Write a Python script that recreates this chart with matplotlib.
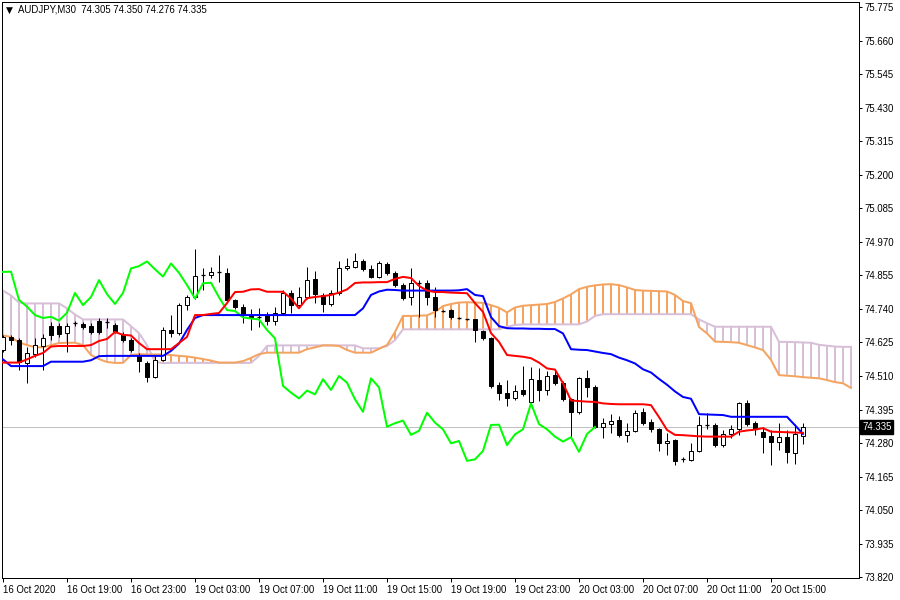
import matplotlib
matplotlib.use("Agg")
import matplotlib.pyplot as plt
from matplotlib.patches import Rectangle
from matplotlib.transforms import blended_transform_factory

# ---------------- data ----------------
symbol_title = "AUDJPY,M30  74.305 74.350 74.276 74.335"
last_price = 74.335

opens = [74.599, 74.645, 74.633, 74.556, 74.584, 74.613, 74.681, 74.681, 74.657, 74.690,
         74.688, 74.681, 74.700, 74.695, 74.685, 74.654, 74.633, 74.582, 74.555, 74.508,
         74.565, 74.668, 74.656, 74.753, 74.782, 74.855, 74.856, 74.866, 74.863, 74.771,
         74.748, 74.717, 74.712, 74.719, 74.700, 74.727, 74.796, 74.753, 74.781, 74.843,
         74.788, 74.757, 74.794, 74.879, 74.885, 74.903, 74.876, 74.851, 74.894, 74.864,
         74.822, 74.780, 74.828, 74.830, 74.780, 74.734, 74.736, 74.709, 74.705, 74.704,
         74.664, 74.639, 74.479, 74.453, 74.433, 74.462, 74.422, 74.496, 74.462, 74.513,
         74.487, 74.430, 74.387, 74.502, 74.473, 74.334, 74.345, 74.359, 74.308, 74.322,
         74.387, 74.353, 74.327, 74.279, 74.290, 74.225, 74.222, 74.253, 74.341, 74.342,
         74.273, 74.310, 74.327, 74.416, 74.350, 74.319, 74.304, 74.285, 74.300, 74.247,
         74.305]
highs = [74.651, 74.651, 74.640, 74.609, 74.640, 74.654, 74.695, 74.691, 74.692, 74.699,
         74.695, 74.692, 74.709, 74.709, 74.692, 74.661, 74.640, 74.589, 74.562, 74.582,
         74.679, 74.719, 74.760, 74.789, 74.945, 74.880, 74.885, 74.925, 74.880, 74.775,
         74.757, 74.740, 74.743, 74.729, 74.748, 74.805, 74.805, 74.816, 74.885, 74.871,
         74.795, 74.805, 74.905, 74.915, 74.932, 74.910, 74.891, 74.903, 74.900, 74.870,
         74.828, 74.880, 74.839, 74.839, 74.816, 74.738, 74.740, 74.711, 74.707, 74.707,
         74.668, 74.643, 74.490, 74.496, 74.479, 74.544, 74.542, 74.537, 74.527, 74.531,
         74.493, 74.433, 74.508, 74.531, 74.479, 74.366, 74.380, 74.373, 74.349, 74.393,
         74.400, 74.362, 74.330, 74.314, 74.294, 74.232, 74.280, 74.373, 74.382, 74.350,
         74.325, 74.342, 74.422, 74.428, 74.355, 74.336, 74.325, 74.350, 74.325, 74.345,
         74.350]
lows = [74.592, 74.616, 74.531, 74.487, 74.575, 74.531, 74.633, 74.645, 74.593, 74.681,
        74.671, 74.654, 74.654, 74.674, 74.658, 74.626, 74.592, 74.525, 74.490, 74.502,
        74.560, 74.645, 74.650, 74.736, 74.775, 74.805, 74.846, 74.832, 74.765, 74.740,
        74.692, 74.668, 74.678, 74.685, 74.685, 74.720, 74.727, 74.747, 74.775, 74.760,
        74.730, 74.750, 74.788, 74.874, 74.880, 74.870, 74.846, 74.846, 74.858, 74.815,
        74.770, 74.753, 74.713, 74.753, 74.713, 74.729, 74.706, 74.704, 74.701, 74.628,
        74.633, 74.469, 74.428, 74.407, 74.428, 74.440, 74.417, 74.425, 74.445, 74.480,
        74.425, 74.300, 74.380, 74.439, 74.333, 74.296, 74.314, 74.301, 74.285, 74.318,
        74.342, 74.318, 74.254, 74.239, 74.205, 74.216, 74.219, 74.250, 74.327, 74.265,
        74.268, 74.297, 74.308, 74.340, 74.308, 74.247, 74.205, 74.256, 74.213, 74.208,
        74.276]
closes = [74.645, 74.633, 74.559, 74.589, 74.616, 74.640, 74.651, 74.654, 74.681, 74.692,
          74.678, 74.661, 74.662, 74.697, 74.665, 74.633, 74.599, 74.561, 74.508, 74.565,
          74.668, 74.656, 74.753, 74.782, 74.853, 74.858, 74.867, 74.868, 74.771, 74.748,
          74.719, 74.709, 74.713, 74.700, 74.727, 74.795, 74.753, 74.781, 74.839, 74.791,
          74.757, 74.795, 74.879, 74.887, 74.903, 74.876, 74.851, 74.896, 74.864, 74.822,
          74.776, 74.828, 74.830, 74.780, 74.736, 74.733, 74.711, 74.707, 74.704, 74.668,
          74.639, 74.476, 74.453, 74.433, 74.460, 74.447, 74.499, 74.462, 74.510, 74.487,
          74.430, 74.387, 74.502, 74.471, 74.336, 74.348, 74.357, 74.308, 74.322, 74.384,
          74.350, 74.327, 74.279, 74.287, 74.219, 74.224, 74.253, 74.342, 74.343, 74.273,
          74.310, 74.327, 74.416, 74.345, 74.327, 74.302, 74.285, 74.300, 74.250, 74.311,
          74.335]

tenkan = [74.556, 74.556, 74.556, 74.567, 74.579, 74.589, 74.611, 74.613, 74.613, 74.613,
          74.613, 74.616, 74.630, 74.637, 74.661, 74.651, 74.649, 74.623, 74.602, 74.602,
          74.602, 74.602, 74.623, 74.644, 74.719, 74.719, 74.723, 74.726, 74.760, 74.798,
          74.799, 74.807, 74.808, 74.799, 74.799, 74.799, 74.776, 74.742, 74.777, 74.781,
          74.784, 74.788, 74.796, 74.807, 74.829, 74.831, 74.831, 74.832, 74.832, 74.843,
          74.850, 74.846, 74.819, 74.803, 74.798, 74.798, 74.796, 74.795, 74.794, 74.760,
          74.730, 74.657, 74.627, 74.582, 74.579, 74.576, 74.571, 74.556, 74.536, 74.532,
          74.485, 74.426, 74.424, 74.422, 74.421, 74.416, 74.414, 74.413, 74.413, 74.413,
          74.413, 74.410, 74.369, 74.325, 74.308, 74.307, 74.305, 74.303, 74.302, 74.302,
          74.302, 74.302, 74.319, 74.323, 74.326, 74.331, 74.319, 74.318, 74.317, 74.316,
          74.315]
kijun = [74.567, 74.544, 74.544, 74.544, 74.544, 74.544, 74.559, 74.559, 74.559, 74.559,
         74.559, 74.564, 74.578, 74.579, 74.579, 74.579, 74.579, 74.579, 74.579, 74.579,
         74.579, 74.596, 74.621, 74.668, 74.709, 74.719, 74.719, 74.719, 74.719, 74.719,
         74.719, 74.719, 74.719, 74.719, 74.719, 74.719, 74.719, 74.719, 74.719, 74.719,
         74.719, 74.719, 74.719, 74.719, 74.719, 74.742, 74.788, 74.800, 74.806, 74.805,
         74.803, 74.803, 74.803, 74.803, 74.803, 74.803, 74.803, 74.804, 74.808, 74.788,
         74.784, 74.712, 74.681, 74.674, 74.673, 74.673, 74.672, 74.672, 74.671, 74.671,
         74.656, 74.602, 74.600, 74.599, 74.594, 74.589, 74.585, 74.573, 74.564, 74.553,
         74.533, 74.522, 74.500, 74.480, 74.457, 74.438, 74.432, 74.379, 74.378, 74.377,
         74.376, 74.370, 74.370, 74.370, 74.370, 74.370, 74.370, 74.370, 74.370, 74.341,
         74.311]
span_a = [74.649, 74.644, 74.625, 74.616, 74.609, 74.608, 74.616, 74.623, 74.624, 74.624,
          74.616, 74.582, 74.568, 74.558, 74.555, 74.555, 74.582, 74.585, 74.584, 74.584,
          74.584, 74.582, 74.579, 74.577, 74.573, 74.568, 74.563, 74.556, 74.556, 74.556,
          74.561, 74.572, 74.585, 74.590, 74.590, 74.590, 74.590, 74.590, 74.602, 74.608,
          74.615, 74.615, 74.613, 74.599, 74.590, 74.590, 74.590, 74.603, 74.616, 74.661,
          74.716, 74.716, 74.717, 74.718, 74.730, 74.750, 74.757, 74.762, 74.763, 74.762,
          74.761, 74.753, 74.744, 74.728, 74.745, 74.751, 74.753, 74.755, 74.757, 74.764,
          74.776, 74.790, 74.808, 74.816, 74.821, 74.824, 74.825, 74.822, 74.814, 74.805,
          74.803, 74.802, 74.801, 74.800, 74.788, 74.767, 74.760, 74.678, 74.656, 74.628,
          74.627, 74.626, 74.624, 74.616, 74.608, 74.599, 74.565, 74.513, 74.511, 74.509,
          74.506, 74.504, 74.502, 74.496, 74.489, 74.485, 74.469]
span_b = [74.803, 74.786, 74.762, 74.759, 74.759, 74.759, 74.759, 74.759, 74.742, 74.721,
          74.704, 74.704, 74.704, 74.704, 74.704, 74.704, 74.681, 74.657, 74.616, 74.559,
          74.554, 74.555, 74.555, 74.555, 74.555, 74.555, 74.555, 74.555, 74.555, 74.555,
          74.555, 74.555, 74.579, 74.613, 74.615, 74.615, 74.615, 74.615, 74.615, 74.615,
          74.615, 74.615, 74.615, 74.615, 74.615, 74.605, 74.605, 74.605, 74.613, 74.633,
          74.670, 74.670, 74.670, 74.670, 74.670, 74.670, 74.670, 74.670, 74.670, 74.670,
          74.670, 74.670, 74.670, 74.679, 74.685, 74.687, 74.687, 74.687, 74.687, 74.687,
          74.687, 74.687, 74.687, 74.697, 74.716, 74.722, 74.722, 74.722, 74.722, 74.722,
          74.722, 74.722, 74.722, 74.722, 74.722, 74.722, 74.722, 74.704, 74.691, 74.679,
          74.679, 74.679, 74.679, 74.679, 74.679, 74.679, 74.679, 74.627, 74.627, 74.626,
          74.625, 74.624, 74.617, 74.614, 74.611, 74.610, 74.610]
chikou_shift = 26

time_tick_bars = [0, 8, 16, 24, 32, 40, 48, 56, 64, 72, 80, 88, 96]
time_tick_labels = ["16 Oct 2020", "16 Oct 19:00", "16 Oct 23:00", "19 Oct 03:00",
                    "19 Oct 07:00", "19 Oct 11:00", "19 Oct 15:00", "19 Oct 19:00",
                    "19 Oct 23:00", "20 Oct 03:00", "20 Oct 07:00", "20 Oct 11:00",
                    "20 Oct 15:00"]
price_ticks = [73.820, 73.935, 74.050, 74.165, 74.280, 74.395, 74.510, 74.625, 74.740,
               74.855, 74.970, 75.085, 75.200, 75.315, 75.430, 75.545, 75.660, 75.775]

# ---------------- style ----------------
FONT = ["Liberation Sans", "DejaVu Sans"]
plt.rcParams["font.family"] = FONT
FS = 6.9
PX = 0.72  # one pixel in points at dpi 100

C_TENKAN = "#ff0000"
C_KIJUN = "#0000ff"
C_CHIKOU = "#00ff00"
C_SPANA = "#f4a460"
C_SPANB = "#d8bfd8"

fig = plt.figure(figsize=(9, 6), dpi=100)
fig.patch.set_facecolor("white")
ax = fig.add_axes([2 / 900, 22 / 600, 857 / 900, 576 / 600])
ax.set_facecolor("white")

n = len(closes)
n_cloud = len(span_a)
ax.set_xlim(-0.125, 107.0)
ax.set_ylim(73.817, 75.793)

# cloud hatching (one vertical stroke per bar)
for i in range(n_cloud):
    a, b = span_a[i], span_b[i]
    col = C_SPANA if a >= b else C_SPANB
    ax.vlines(i, min(a, b), max(a, b), colors=col, lw=2 * PX, zorder=1)
ax.plot(range(n_cloud), span_b, color=C_SPANB, lw=2 * PX, zorder=2)
ax.plot(range(n_cloud), span_a, color=C_SPANA, lw=2 * PX, zorder=2)

# current price line
ax.axhline(last_price, color="#c0c0c0", lw=PX, zorder=2.5)

# candles
bw = 0.6
for i in range(n):
    o, h, l, c = opens[i], highs[i], lows[i], closes[i]
    ax.vlines(i, l, h, colors="black", lw=PX, zorder=3)
    lo, hi = min(o, c), max(o, c)
    if hi - lo < 0.004:
        ax.hlines((o + c) / 2, i - bw / 2, i + bw / 2, colors="black", lw=1.3 * PX, zorder=4)
    else:
        ax.add_patch(Rectangle((i - bw / 2, lo), bw, hi - lo,
                               facecolor="white" if c >= o else "black",
                               edgecolor="black", lw=PX, zorder=4))

# ichimoku lines
chikou = closes[chikou_shift:]
ax.plot(range(len(chikou)), chikou, color=C_CHIKOU, lw=2 * PX, zorder=5)
ax.plot(range(n), kijun, color=C_KIJUN, lw=2 * PX, zorder=6)
ax.plot(range(n), tenkan, color=C_TENKAN, lw=2 * PX, zorder=7)

# axes styling
for s in ax.spines.values():
    s.set_color("black")
    s.set_linewidth(PX)

ax.yaxis.tick_right()
ax.set_yticks(price_ticks)
ax.set_yticklabels([f"{p:.3f}" for p in price_ticks])
ax.tick_params(axis="y", direction="out", length=3 * PX, width=PX, pad=1.5,
               labelsize=FS, colors="black")

ax.set_xticks(time_tick_bars)
ax.set_xticklabels(time_tick_labels, ha="left")
ax.tick_params(axis="x", direction="out", length=4 * PX, width=PX, pad=2,
               labelsize=FS, colors="black")

# last price tag on the scale
trans = blended_transform_factory(ax.transAxes, ax.transData)
ax.text(1.0 + 3 / 857, last_price, f"{last_price:.3f}", transform=trans,
        ha="left", va="center", fontsize=FS, color="white", zorder=10,
        bbox=dict(boxstyle="square,pad=0.18", facecolor="black", edgecolor="black"),
        clip_on=False)

# header
fig.text(6 / 900, 1 - 10 / 600, "\u25bc", fontsize=6.5, color="black",
         ha="left", va="center", family=["DejaVu Sans"])
fig.text(18 / 900, 1 - 10 / 600, symbol_title, fontsize=FS, color="black",
         ha="left", va="center")

fig.savefig("out.png", dpi=100, facecolor="white")
